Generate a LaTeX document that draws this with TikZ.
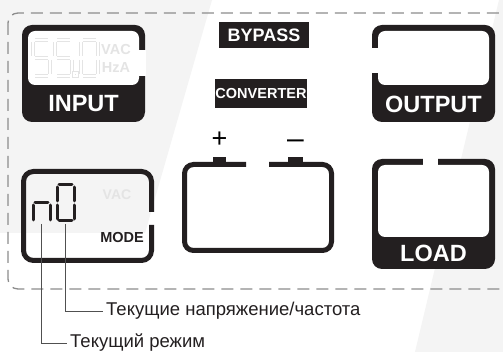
\documentclass[tikz,border=0pt]{standalone}
\usepackage{fontspec}
\setmainfont{Liberation Sans}
\definecolor{PanelBlack}{HTML}{231F20}
\definecolor{BackGrey}{HTML}{F4F4F4}
\definecolor{FrameGrey}{HTML}{8C8C8C}
\definecolor{SegGrey}{HTML}{E4E4E4}
\definecolor{LeadGrey}{HTML}{505050}

\begin{document}
\begin{tikzpicture}[x=1pt, y=-1pt,
    frame/.style={draw=FrameGrey, line width=1.3pt, dash pattern=on 12pt off 7pt, rounded corners=10pt},
    thickline/.style={draw=PanelBlack, line width=5pt},
    bandlabel/.style={text=white, font=\bfseries\fontsize{23.5}{23.5}\selectfont, inner sep=0pt},
    taglabel/.style={fill=PanelBlack, text=white, inner sep=0pt},
    lcdseg/.style={draw=SegGrey, line width=0.9pt, double=white, double distance=2pt},
    modeseg/.style={draw=PanelBlack, line width=3pt, line cap=round},
    leader/.style={draw=LeadGrey, line width=0.9pt},
    note/.style={anchor=west, inner xsep=3pt, inner ysep=0pt, font=\fontsize{18.5}{18.5}\selectfont, text=PanelBlack}]
  \useasboundingbox (0,0) rectangle (503,352);
  \clip (0,0) rectangle (503,352);
  \fill[white] (0,0) rectangle (503,352);
  \fill[BackGrey] (0,0) -- (212,0) -- (145,233) -- (0,233) -- cycle;
  \fill[BackGrey] (499,0) -- (415,352) -- (503,352) -- (503,0) -- cycle;

  \draw[frame] (8,13) rectangle (540,289);

  \fill[PanelBlack, rounded corners=10pt] (22,25) rectangle (145,122);
  \fill[white, rounded corners=7pt] (28,31) rectangle (139,85);
  \fill[white] (138,50) rectangle (146,76);
  \foreach \dx in {0,22} {
    \begin{scope}[shift={(33+\dx,40)}]
      \draw[lcdseg] (2,0) -- (15,0) (0,2) -- (0,16) (2,18) -- (15,18) (17,20) -- (17,34) (2,36) -- (15,36);
    \end{scope}
  }
  \draw[lcdseg] (74,73) rectangle (77,76);
  \begin{scope}[shift={(81,40)}]
    \draw[lcdseg] (2,0) -- (15,0) (0,2) -- (0,16) (17,2) -- (17,16) (0,20) -- (0,34) (17,20) -- (17,34) (2,36) -- (15,36);
  \end{scope}
  \node[text=SegGrey, font=\bfseries\fontsize{14.5}{14.5}\selectfont, inner sep=0pt] (inVac) at (116,50) {VAC};
  \node[text=SegGrey, font=\bfseries\fontsize{14.5}{14.5}\selectfont, inner sep=0pt] (inHz) at (116,68) {HzA};
  \node[bandlabel] (inputLbl) at (83.5,104) {INPUT};

  \node[taglabel, minimum width=90pt, minimum height=26pt, font=\bfseries\fontsize{18}{18}\selectfont] (bypass) at (264,35) {BYPASS};
  \node[taglabel, minimum width=92pt, minimum height=29pt, font=\bfseries\fontsize{14.5}{14.5}\selectfont] (converter) at (261,93.5) {CONVERTER};

  \fill[PanelBlack, rounded corners=10pt] (372,25) rectangle (495,122);
  \fill[white, rounded corners=7pt] (378,31) rectangle (489,85);
  \fill[white] (371,48) rectangle (379,73);
  \node[bandlabel] (outputLbl) at (433.5,104) {OUTPUT};

  \node[anchor=base, font=\fontsize{27}{27}\selectfont, inner sep=0pt] (plusSign) at (219.5,148) {+};
  \node[anchor=base, font=\fontsize{30}{30}\selectfont, inner sep=0pt] (minusSign) at (295.5,149) {–};
  \fill[PanelBlack] (213,157) rectangle (226,163);
  \fill[PanelBlack] (288,157) rectangle (303,163);
  \draw[thickline, rounded corners=9pt] (246,164.5) -- (184.5,164.5) -- (184.5,250.5) -- (331.5,250.5) -- (331.5,164.5) -- (269,164.5);

  \fill[PanelBlack, rounded corners=10pt] (372,159) rectangle (495,269);
  \fill[white, rounded corners=7pt] (378,165) rectangle (489,237);
  \fill[white] (423,158) rectangle (438,166);
  \node[bandlabel] (loadLbl) at (433.5,253.5) {LOAD};

  \draw[thickline, rounded corners=10pt] (151.5,225) -- (151.5,260.5) -- (23.5,260.5) -- (23.5,171.5) -- (151.5,171.5) -- (151.5,212);
  \begin{scope}[shift={(33,185)}]
    \draw[modeseg] (0,20) -- (0,35) (2,17.5) -- (15,17.5) (17,20) -- (17,35);
  \end{scope}
  \begin{scope}[shift={(57,185)}]
    \draw[modeseg] (2,0) -- (15,0) (0,2) -- (0,16) (17,2) -- (17,16) (0,20) -- (0,34) (17,20) -- (17,34) (2,36) -- (15,36);
  \end{scope}
  \coordinate (nDigit) at (41.5,224);
  \coordinate (zeroDigit) at (65.5,224);
  \node[text=SegGrey, font=\bfseries\fontsize{14}{14}\selectfont, inner sep=0pt] (modeVac) at (117,195) {VAC};
  \node[font=\bfseries\fontsize{14.5}{14.5}\selectfont, inner sep=0pt, text=PanelBlack] (modeLbl) at (122,238) {MODE};

  \node[note] (curLevel) at (103,311) {Текущие напряжение/частота};
  \node[note] (curMode) at (67,343) {Текущий режим};
  \draw[leader] (zeroDigit) |- (curLevel.west);
  \draw[leader] (nDigit) |- (curMode.west);
\end{tikzpicture}
\end{document}
